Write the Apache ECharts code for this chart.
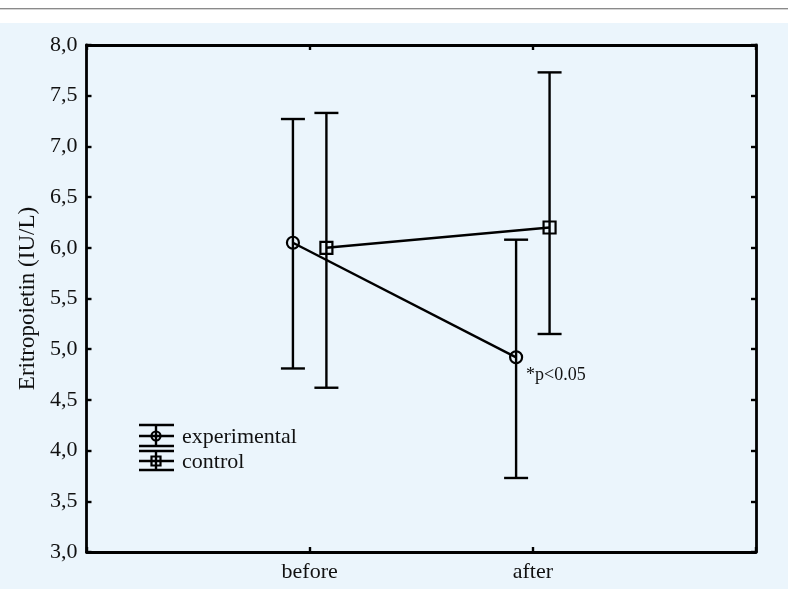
<!DOCTYPE html>
<html>
<head>
<meta charset="utf-8">
<script src="https://cdn.jsdelivr.net/npm/echarts@6/dist/echarts.min.js"></script>
<style>
html,body{margin:0;padding:0;background:#ffffff;}
#c{width:788px;height:589px;}
</style>
</head>
<body>
<div id="c"></div>
<script>
// ---- data ----
const categories = ['before', 'after'];
const seriesNames = ['experimental', 'control'];
const expMean = [6.05, 4.92];
const expLow  = [4.81, 3.73];
const expHigh = [7.27, 6.08];
const ctrlMean = [6.00, 6.20];
const ctrlLow  = [4.62, 5.15];
const ctrlHigh = [7.33, 7.73];
const yTicks = [3.0, 3.5, 4.0, 4.5, 5.0, 5.5, 6.0, 6.5, 7.0, 7.5, 8.0];
const annotation = '*p<0.05';

const OFFSET = 0.075;
const FONT = 'Liberation Serif';

function pts(mean, off) { return mean.map((m, i) => [i + 1 + off, m]); }
function bars(low, high, off) { return low.map((l, i) => [i + 1 + off, l, high[i]]); }

function errorRender(params, api) {
  const x = api.value(0);
  const lo = api.coord([x, api.value(1)]);
  const hi = api.coord([x, api.value(2)]);
  const hw = 12;
  const st = { stroke: '#000', lineWidth: 2.4 };
  return {
    type: 'group',
    children: [
      { type: 'line', shape: { x1: lo[0], y1: lo[1], x2: hi[0], y2: hi[1] }, style: st },
      { type: 'line', shape: { x1: hi[0] - hw, y1: hi[1], x2: hi[0] + hw, y2: hi[1] }, style: st },
      { type: 'line', shape: { x1: lo[0] - hw, y1: lo[1], x2: lo[0] + hw, y2: lo[1] }, style: st }
    ]
  };
}

const chart = echarts.init(document.getElementById('c'), null, { renderer: 'canvas' });

const expData = pts(expMean, -OFFSET).map((p, i) => {
  if (i === 1) {
    return { value: p, label: { show: true, formatter: annotation, position: [17, 16], color: '#111', fontFamily: FONT, fontSize: 18 } };
  }
  return p;
});

const axisLine = { show: true, onZero: false, lineStyle: { color: '#000', width: 2.8 } };
const axisTick = { show: true, inside: true, length: 5, lineStyle: { color: '#000', width: 2.4 } };

const option = {
  backgroundColor: 'transparent',
  animation: false,
  grid: { left: 86.5, right: 32, top: 45, bottom: 37, containLabel: false },
  xAxis: [
    {
      type: 'value', min: 0, max: 3, interval: 1, position: 'bottom',
      axisLine: axisLine, axisTick: axisTick, splitLine: { show: false },
      axisLabel: { color: '#111', fontFamily: FONT, fontSize: 22, margin: 9,
        formatter: v => categories[v - 1] || '' }
    },
    {
      type: 'value', min: 0, max: 3, interval: 1, position: 'top',
      axisLine: axisLine, axisTick: axisTick, splitLine: { show: false },
      axisLabel: { show: false }
    }
  ],
  yAxis: [
    {
      type: 'value', min: yTicks[0], max: yTicks[yTicks.length - 1], interval: 0.5, position: 'left',
      axisLine: axisLine, axisTick: axisTick, splitLine: { show: false },
      axisLabel: { color: '#111', fontFamily: FONT, fontSize: 22, margin: 9,
        formatter: v => v.toFixed(1).replace('.', ',') },
      name: 'Eritropoietin (IU/L)', nameLocation: 'middle', nameGap: 44,
      nameTextStyle: { color: '#111', fontFamily: FONT, fontSize: 23 }
    },
    {
      type: 'value', min: yTicks[0], max: yTicks[yTicks.length - 1], interval: 0.5, position: 'right',
      axisLine: axisLine, axisTick: axisTick, splitLine: { show: false },
      axisLabel: { show: false }
    }
  ],
  graphic: [
    { type: 'rect', silent: true, z: -10, shape: { x: 0, y: 23, width: 788, height: 566 }, style: { fill: '#EBF5FC' } },
    { type: 'line', silent: true, shape: { x1: 0, y1: 8.5, x2: 788, y2: 8.5 }, style: { stroke: '#8a8a8a', lineWidth: 1 } },
    { type: 'line', silent: true, shape: { x1: 0, y1: 9.5, x2: 788, y2: 9.5 }, style: { stroke: '#d4d4d4', lineWidth: 1 } },
    { type: 'group', children: [
      { type: 'line', shape: { x1: 139, y1: 425, x2: 174, y2: 425 }, style: { stroke: '#000', lineWidth: 2.4 } },
      { type: 'line', shape: { x1: 139, y1: 446, x2: 174, y2: 446 }, style: { stroke: '#000', lineWidth: 2.4 } },
      { type: 'line', shape: { x1: 139, y1: 436, x2: 174, y2: 436 }, style: { stroke: '#000', lineWidth: 2.4 } },
      { type: 'line', shape: { x1: 156, y1: 425, x2: 156, y2: 446 }, style: { stroke: '#000', lineWidth: 2.4 } },
      { type: 'circle', shape: { cx: 156, cy: 436, r: 4.5 }, style: { fill: 'none', stroke: '#000', lineWidth: 2.2 } },
      { type: 'text', style: { x: 182, y: 437, text: seriesNames[0], fill: '#111', font: '22px "Liberation Serif"', textVerticalAlign: 'middle' } }
    ]},
    { type: 'group', children: [
      { type: 'line', shape: { x1: 139, y1: 451, x2: 174, y2: 451 }, style: { stroke: '#000', lineWidth: 2.4 } },
      { type: 'line', shape: { x1: 139, y1: 470, x2: 174, y2: 470 }, style: { stroke: '#000', lineWidth: 2.4 } },
      { type: 'line', shape: { x1: 139, y1: 461, x2: 174, y2: 461 }, style: { stroke: '#000', lineWidth: 2.4 } },
      { type: 'line', shape: { x1: 156, y1: 451, x2: 156, y2: 470 }, style: { stroke: '#000', lineWidth: 2.4 } },
      { type: 'rect', shape: { x: 151.5, y: 456.5, width: 9, height: 9 }, style: { fill: 'none', stroke: '#000', lineWidth: 2.2 } },
      { type: 'text', style: { x: 182, y: 462, text: seriesNames[1], fill: '#111', font: '22px "Liberation Serif"', textVerticalAlign: 'middle' } }
    ]}
  ],
  series: [
    {
      name: seriesNames[0] + ' error', type: 'custom', renderItem: errorRender,
      data: bars(expLow, expHigh, -OFFSET), encode: { x: 0, y: [1, 2] }, z: 2
    },
    {
      name: seriesNames[1] + ' error', type: 'custom', renderItem: errorRender,
      data: bars(ctrlLow, ctrlHigh, OFFSET), encode: { x: 0, y: [1, 2] }, z: 2
    },
    {
      name: seriesNames[0], type: 'line', data: expData,
      symbol: 'circle', symbolSize: 12, showSymbol: true,
      lineStyle: { color: '#000', width: 2.4 },
      itemStyle: { color: 'transparent', borderColor: '#000', borderWidth: 2.2 }, z: 3
    },
    {
      name: seriesNames[1], type: 'line', data: pts(ctrlMean, OFFSET),
      symbol: 'rect', symbolSize: 12, showSymbol: true,
      lineStyle: { color: '#000', width: 2.4 },
      itemStyle: { color: 'transparent', borderColor: '#000', borderWidth: 2.2 }, z: 3
    }
  ]
};
chart.setOption(option);
</script>
</body>
</html>
